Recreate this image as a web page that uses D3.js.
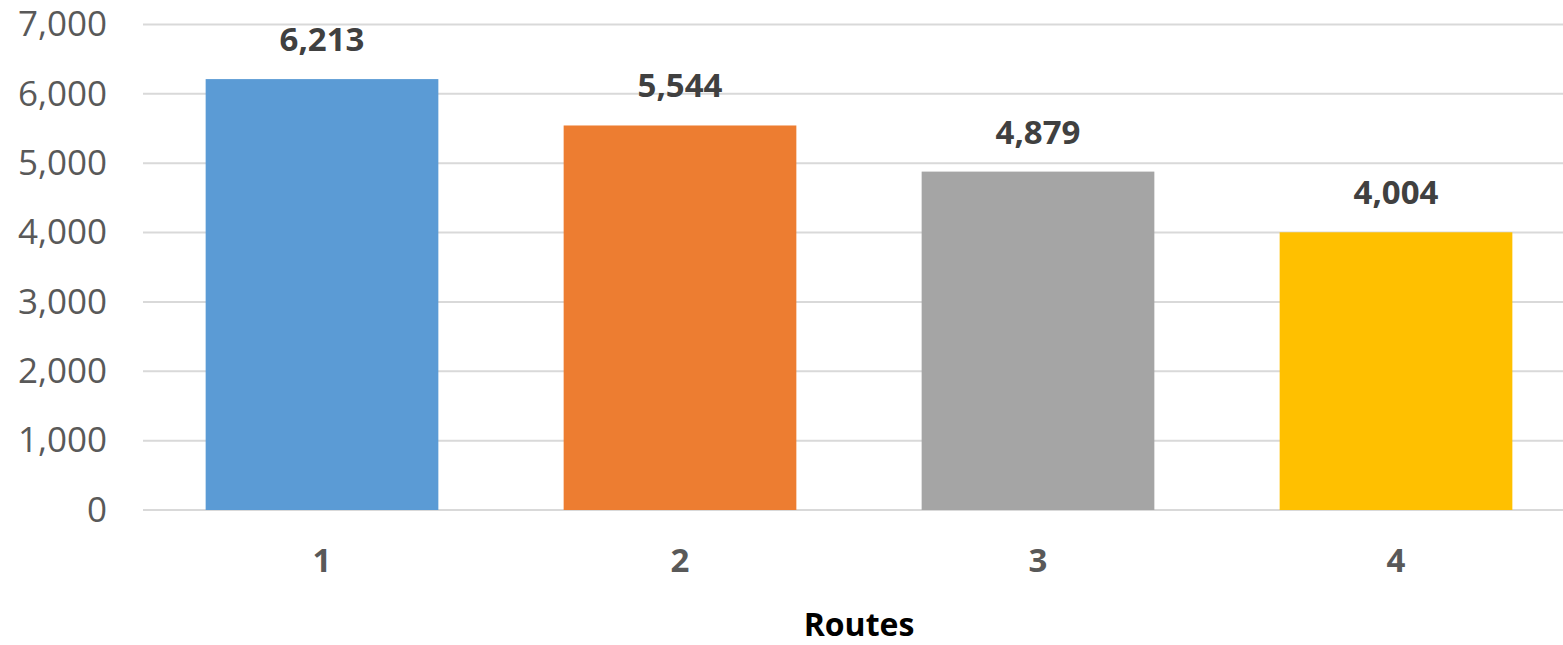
<!DOCTYPE html>
<html><head><meta charset="utf-8">
<script src="https://cdn.jsdelivr.net/npm/d3@7"></script>
<style>body{margin:0;background:#fff}svg{display:block}</style>
</head><body>
<svg id="c" width="1563" height="645"></svg>
<script>
const categories = ["1","2","3","4"];
const values = [6213, 5544, 4879, 4004];
const colors = ["#5B9BD5","#ED7D31","#A5A5A5","#FFC000"];
const yTicks = [0,1000,2000,3000,4000,5000,6000,7000];
const xTitle = "Routes";

const svg = d3.select("#c");
const font = "'Open Sans', 'Noto Sans', sans-serif";
const x = d3.scaleBand().domain(categories).range([143,1575]).paddingInner(0.35).paddingOuter(0.175);
const y = d3.scaleLinear().domain([0,7000]).range([510,24.5]);
const fmt = d3.format(",");

// gridlines
svg.append("g").selectAll("line").data(yTicks).join("line")
  .attr("x1",143).attr("x2",1563)
  .attr("y1",d=>y(d)).attr("y2",d=>y(d))
  .attr("stroke","#D9D9D9").attr("stroke-width",2);

// y axis labels
const yAxis = d3.axisLeft(y).tickValues(yTicks).tickFormat(fmt).tickSize(0).tickPadding(0);
const gy = svg.append("g").attr("transform","translate(107,0)").call(yAxis);
gy.select(".domain").remove();
gy.selectAll("text").attr("font-family",font).attr("font-size",35).attr("fill","#595959");

// bars
svg.append("g").selectAll("rect").data(values).join("rect")
  .attr("x",(d,i)=>x(categories[i])).attr("width",x.bandwidth())
  .attr("y",d=>y(d)).attr("height",d=>y(0)-y(d))
  .attr("fill",(d,i)=>colors[i]);

// value labels
svg.append("g").selectAll("text").data(values).join("text")
  .attr("x",(d,i)=>x(categories[i])+x.bandwidth()/2)
  .attr("y",d=>y(d)-28)
  .attr("text-anchor","middle").attr("font-family",font).attr("font-weight","bold")
  .attr("font-size",33).attr("fill","#404040").text(d=>fmt(d));

// x axis labels
const xAxis = d3.axisBottom(x).tickSize(0).tickPadding(0);
const gx = svg.append("g").attr("transform","translate(0,549)").call(xAxis);
gx.select(".domain").remove();
gx.selectAll("text").attr("font-family",font).attr("font-weight","bold").attr("font-size",33).attr("fill","#595959");

// x title
svg.append("text").attr("x",(143+1575)/2).attr("y",636).attr("text-anchor","middle")
  .attr("font-family",font).attr("font-weight","bold").attr("font-size",32).attr("fill","#000").text(xTitle);
</script>
</body></html>
